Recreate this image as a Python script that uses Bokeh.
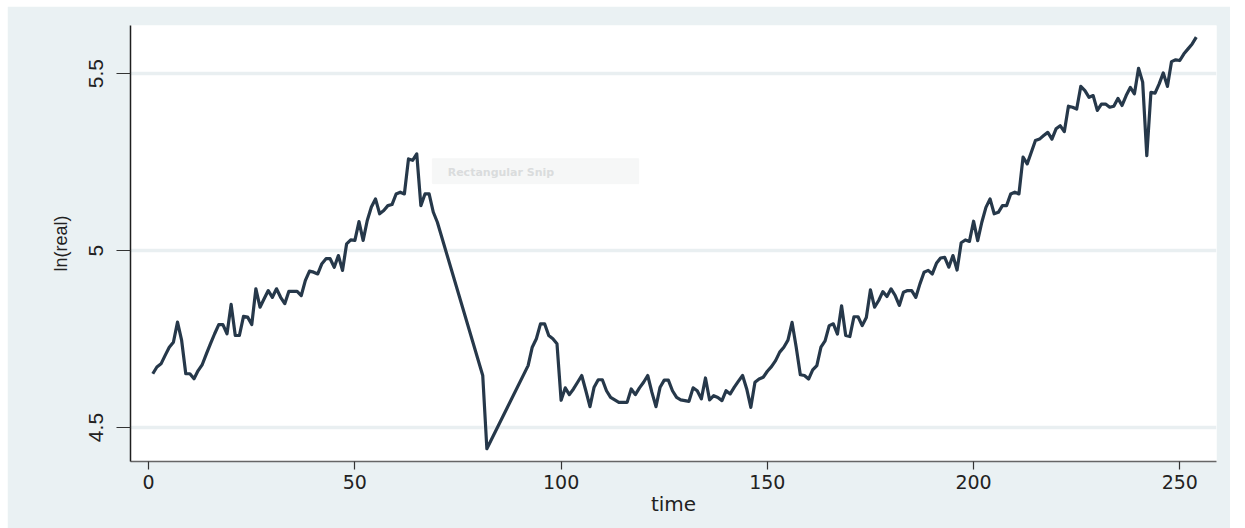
from bokeh.plotting import figure
from bokeh.models import Range1d, FixedTicker, Label, BoxAnnotation
from bokeh.embed import file_html
from bokeh.resources import INLINE

# ---- data ----
time = [1, 2, 3, 4, 5, 6, 7, 8, 9, 10, 11, 12, 13, 14, 15, 16, 17, 18, 19, 20,
        21, 22, 23, 24, 25, 26, 27, 28, 29, 30, 31, 32, 33, 34, 35, 36, 37, 38, 39, 40,
        41, 42, 43, 44, 45, 46, 47, 48, 49, 50, 51, 52, 53, 54, 55, 56, 57, 58, 59, 60,
        61, 62, 63, 64, 65, 66, 67, 68, 69, 70, 81, 82, 92, 93, 94, 95, 96, 97, 98, 99,
        100, 101, 102, 103, 104, 105, 106, 107, 108, 109, 110, 111, 112, 113, 114, 115,
        116, 117, 118, 119, 120, 121, 122, 123, 124, 125, 126, 127, 128, 129, 130, 131,
        132, 133, 134, 135, 136, 137, 138, 139, 140, 141, 142, 143, 144, 145, 146, 147,
        148, 149, 150, 151, 152, 153, 154, 155, 156, 157, 158, 159, 160, 161, 162, 163,
        164, 165, 166, 167, 168, 169, 170, 171, 172, 173, 174, 175, 176, 177, 178, 179,
        180, 181, 182, 183, 184, 185, 186, 187, 188, 189, 190, 191, 192, 193, 194, 195,
        196, 197, 198, 199, 200, 201, 202, 203, 204, 205, 206, 207, 208, 209, 210, 211,
        212, 213, 214, 215, 216, 217, 218, 219, 220, 221, 222, 223, 224, 225, 226, 227,
        228, 229, 230, 231, 232, 233, 234, 235, 236, 237, 238, 239, 240, 241, 242, 243,
        244, 245, 246, 247, 248, 249, 250, 251, 252, 253, 254]

ln_real = [4.652, 4.671, 4.680, 4.704, 4.727, 4.741, 4.798, 4.746, 4.652, 4.652,
           4.638, 4.661, 4.678, 4.708, 4.737, 4.765, 4.791, 4.791, 4.765, 4.848,
           4.760, 4.760, 4.814, 4.812, 4.791, 4.892, 4.840, 4.864, 4.887, 4.868,
           4.892, 4.868, 4.850, 4.885, 4.885, 4.885, 4.873, 4.916, 4.942, 4.939,
           4.934, 4.963, 4.977, 4.977, 4.953, 4.986, 4.944, 5.019, 5.030, 5.029,
           5.082, 5.029, 5.085, 5.123, 5.146, 5.104, 5.113, 5.127, 5.130, 5.160,
           5.165, 5.160, 5.259, 5.255, 5.273, 5.127, 5.160, 5.160, 5.109, 5.080,
           4.647, 4.440, 4.675, 4.727, 4.751, 4.793, 4.793, 4.760, 4.751, 4.737,
           4.577, 4.612, 4.593, 4.609, 4.628, 4.647, 4.604, 4.559, 4.614, 4.635,
           4.635, 4.604, 4.585, 4.578, 4.571, 4.571, 4.571, 4.609, 4.593, 4.612,
           4.628, 4.647, 4.600, 4.559, 4.614, 4.634, 4.634, 4.604, 4.585, 4.578,
           4.576, 4.574, 4.612, 4.604, 4.581, 4.640, 4.578, 4.590, 4.585, 4.576,
           4.604, 4.595, 4.614, 4.631, 4.647, 4.609, 4.557, 4.628, 4.637, 4.642,
           4.659, 4.672, 4.689, 4.713, 4.727, 4.747, 4.797, 4.727, 4.649, 4.647,
           4.637, 4.663, 4.675, 4.727, 4.745, 4.788, 4.793, 4.764, 4.844, 4.760,
           4.757, 4.813, 4.813, 4.788, 4.811, 4.889, 4.840, 4.859, 4.884, 4.870,
           4.892, 4.873, 4.845, 4.882, 4.887, 4.887, 4.868, 4.906, 4.939, 4.944,
           4.934, 4.964, 4.979, 4.981, 4.953, 4.986, 4.945, 5.022, 5.030, 5.026,
           5.083, 5.028, 5.080, 5.122, 5.146, 5.104, 5.108, 5.127, 5.127, 5.160,
           5.165, 5.160, 5.264, 5.245, 5.278, 5.311, 5.315, 5.325, 5.334, 5.315,
           5.344, 5.353, 5.336, 5.408, 5.405, 5.400, 5.464, 5.452, 5.433, 5.438,
           5.396, 5.414, 5.414, 5.405, 5.408, 5.430, 5.410, 5.438, 5.461, 5.443,
           5.515, 5.476, 5.268, 5.447, 5.445, 5.471, 5.502, 5.464, 5.534, 5.539,
           5.537, 5.556, 5.570, 5.584, 5.603]

x_ticks = [0, 50, 100, 150, 200, 250]
y_ticks = [4.5, 5, 5.5]
y_tick_labels = {4.5: "4.5", 5: "5", 5.5: "5.5"}
x_label = "time"
y_label = "ln(real)"

# faint screenshot-tool overlay seen in the reference
snip_text = "Rectangular Snip"
snip_box = dict(left=68.8, right=118.8, bottom=5.189, top=5.260)
snip_pos = (72.5, 5.222)

BG = "#EAF1F3"

p = figure(width=1223, height=522, output_backend="svg", toolbar_location=None,
           x_range=Range1d(-4.4, 258.9), y_range=Range1d(4.404, 5.636),
           min_border_left=123, min_border_right=14, min_border_top=19,
           min_border_bottom=67)
p.margin = (6, 15, 0, 7)
p.background_fill_color = "white"
p.border_fill_color = BG
p.outline_line_color = None

# grid
p.xgrid.visible = False
p.ygrid.ticker = FixedTicker(ticks=y_ticks)
p.ygrid.grid_line_color = "#E9EFF1"
p.ygrid.grid_line_width = 3.5

# snip overlay
p.add_layout(BoxAnnotation(fill_color="#F6F7F7", fill_alpha=1.0, line_color="#F1F2F2",
                           level="underlay", **snip_box))
p.add_layout(Label(x=snip_pos[0], y=snip_pos[1], text=snip_text, text_font="DejaVu Sans",
                   text_font_size="11px", text_font_style="bold", text_color="#DADCDD",
                   text_baseline="middle"))

p.line(time, ln_real, line_color="#26384A", line_width=3.2, line_join="round")

# x axis
xa = p.xaxis[0]
xa.ticker = FixedTicker(ticks=x_ticks)
xa.axis_label = x_label
xa.axis_label_text_font = "DejaVu Sans"
xa.axis_label_text_font_size = "20px"
xa.axis_label_text_font_style = "normal"
xa.axis_label_text_color = "#222222"
xa.axis_label_standoff = 0
xa.major_label_text_font = "DejaVu Sans"
xa.major_label_text_font_size = "19px"
xa.major_label_text_color = "#222222"
xa.major_label_standoff = 5
xa.axis_line_color = "#666666"
xa.axis_line_width = 1.5
xa.major_tick_line_color = "#333333"
xa.major_tick_line_width = 1.2
xa.major_tick_out = 8
xa.major_tick_in = 0
xa.minor_tick_line_color = None

# y axis
ya = p.yaxis[0]
ya.ticker = FixedTicker(ticks=y_ticks)
ya.major_label_overrides = y_tick_labels
ya.major_label_orientation = "vertical"
ya.axis_label = y_label
ya.axis_label_text_font = "Liberation Sans"
ya.axis_label_text_font_size = "18px"
ya.axis_label_text_font_style = "normal"
ya.axis_label_text_color = "#222222"
ya.axis_label_standoff = 16
ya.major_label_text_font = "Liberation Sans"
ya.major_label_text_font_size = "21px"
ya.major_label_text_color = "#222222"
ya.major_label_standoff = 13
ya.axis_line_color = "#1E1E1E"
ya.axis_line_width = 1.5
ya.major_tick_line_color = "#333333"
ya.major_tick_line_width = 1.2
ya.major_tick_out = 14
ya.major_tick_in = 0
ya.minor_tick_line_color = None

open("out.html", "w").write(file_html(p, INLINE))
